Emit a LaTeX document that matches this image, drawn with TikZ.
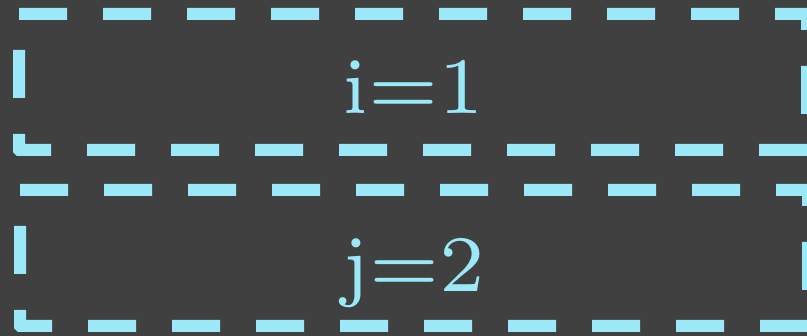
\documentclass[tikz,border=0pt]{standalone}
\usepackage{fontspec}
\usepackage{tikz}
\usetikzlibrary{positioning}
\newfontfamily\lmseven{lmroman7-regular.otf}
\definecolor{Slate}{HTML}{404040}
\definecolor{Sky}{HTML}{9AE8F8}
\tikzset{
  slotbox/.style={draw=Sky,line width=12pt,dash pattern=on 48pt off 36pt},
  slotlabel/.style={text=Sky,anchor=base,inner sep=0pt,font=\lmseven\fontsize{80}{96}\selectfont},
}
\begin{document}
\begin{tikzpicture}[x=1pt,y=-1pt]
  \fill[Slate] (0,0) rectangle (807,336);
  \useasboundingbox (0,0) rectangle (807,336);
  % index boxes
  \node[slotlabel] (idxI) at (413,114) {i=1};
  \node[slotlabel] (idxJ) at (413,292) {j=2};
  \draw[slotbox] (19,14) -- (807,14) -- (807,150) [rounded corners=.3pt] -- (19,150) [sharp corners] -- cycle;
  \draw[slotbox] (20,190) -- (808,190) -- (808,326) [rounded corners=.3pt] -- (20,326) [sharp corners] -- cycle;
\end{tikzpicture}
\end{document}
